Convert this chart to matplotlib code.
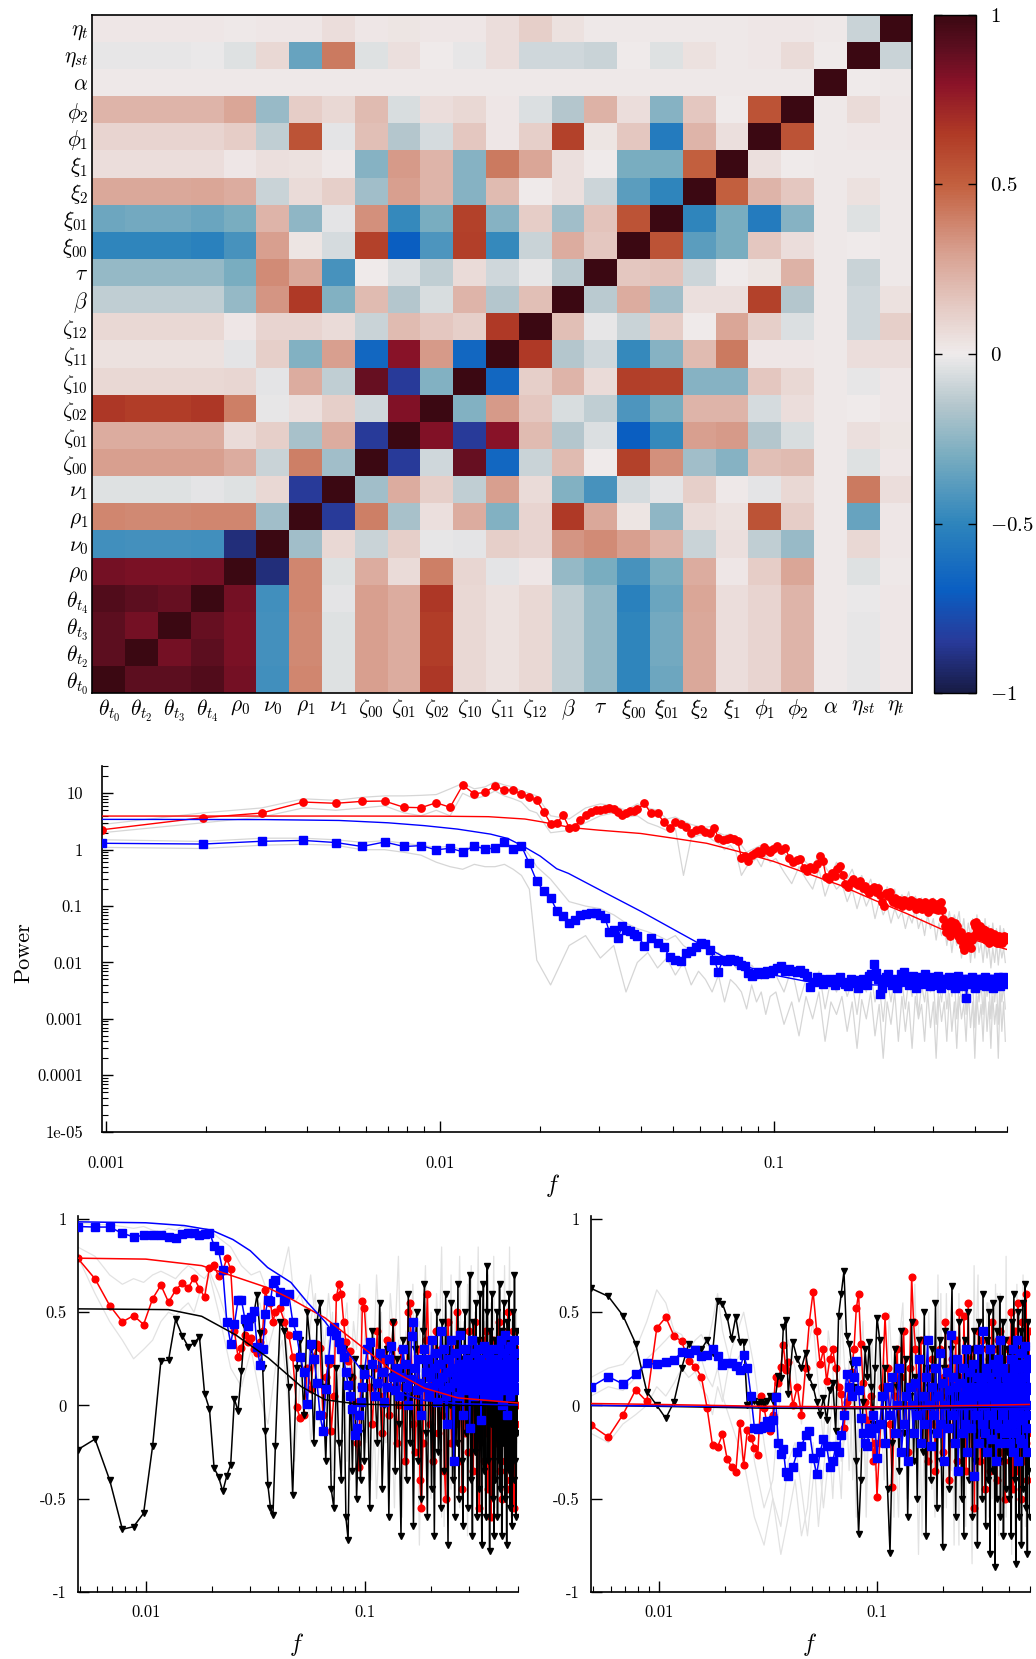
import numpy as np
import matplotlib as mpl
mpl.use('Agg')
import matplotlib.pyplot as plt
from matplotlib.colors import LinearSegmentedColormap
from matplotlib.ticker import LogLocator, NullFormatter

#--------------------------------
# Matriz de correlacion: etiquetas y triangulo inferior (fila i, columnas j<i)
etiquetas = [r'$\theta_{t_0}$', r'$\theta_{t_2}$', r'$\theta_{t_3}$', r'$\theta_{t_4}$',
             r'$\rho_0$', r'$\nu_0$', r'$\rho_1$', r'$\nu_1$',
             r'$\zeta_{00}$', r'$\zeta_{01}$', r'$\zeta_{02}$', r'$\zeta_{10}$',
             r'$\zeta_{11}$', r'$\zeta_{12}$', r'$\beta$', r'$\tau$',
             r'$\xi_{00}$', r'$\xi_{01}$', r'$\xi_2$', r'$\xi_1$',
             r'$\phi_1$', r'$\phi_2$', r'$\alpha$', r'$\eta_{st}$', r'$\eta_t$']

filas = [
    [],
    [0.90],
    [0.90, 0.85],
    [0.93, 0.90, 0.88],
    [0.85, 0.83, 0.83, 0.85],
    [-0.45, -0.44, -0.44, -0.45, -0.90],
    [0.38, 0.37, 0.37, 0.38, 0.38, -0.20],
    [-0.04, -0.04, -0.04, -0.03, -0.04, 0.08, -0.85],
    [0.30, 0.30, 0.30, 0.30, 0.25, -0.10, 0.40, -0.20],
    [0.25, 0.25, 0.25, 0.25, 0.07, 0.12, -0.18, 0.25, -0.85],
    [0.66, 0.64, 0.64, 0.66, 0.40, -0.02, 0.05, 0.12, -0.08, 0.82],
    [0.08, 0.08, 0.08, 0.08, 0.09, -0.03, 0.25, -0.12, 0.88, -0.85, -0.28],
    [0.04, 0.04, 0.04, 0.04, -0.03, 0.12, -0.28, 0.30, -0.65, 0.80, 0.32, -0.65],
    [0.08, 0.08, 0.08, 0.08, 0.02, 0.10, 0.10, 0.07, -0.10, 0.20, 0.15, 0.12, 0.65],
    [-0.12, -0.12, -0.12, -0.12, -0.23, 0.33, 0.65, -0.28, 0.20, -0.15, -0.06, 0.22, -0.15, 0.18],
    [-0.23, -0.23, -0.23, -0.23, -0.30, 0.36, 0.27, -0.43, 0.0, -0.05, -0.12, 0.07, -0.08, -0.02, -0.14],
    [-0.50, -0.50, -0.50, -0.52, -0.43, 0.30, 0.03, -0.07, 0.62, -0.70, -0.42, 0.63, -0.48, -0.10, 0.25, 0.15],
    [-0.33, -0.32, -0.32, -0.34, -0.30, 0.22, -0.25, -0.03, 0.35, -0.48, -0.30, 0.62, -0.27, 0.13, -0.20, 0.17, 0.55],
    [0.27, 0.27, 0.27, 0.28, 0.25, -0.10, 0.07, 0.12, -0.20, 0.30, 0.22, -0.27, 0.20, 0.0, 0.05, -0.09, -0.38, -0.50],
    [0.06, 0.06, 0.06, 0.06, 0.02, 0.05, 0.04, 0.01, -0.27, 0.32, 0.22, -0.27, 0.42, 0.28, 0.05, 0.0, -0.30, -0.30, 0.50],
    [0.10, 0.10, 0.10, 0.10, 0.13, -0.12, 0.55, -0.03, 0.18, -0.15, -0.07, 0.15, 0.02, 0.12, 0.62, 0.03, 0.15, -0.55, 0.22, 0.05],
    [0.22, 0.22, 0.22, 0.22, 0.28, -0.22, 0.13, 0.08, 0.20, -0.06, 0.06, 0.08, 0.02, -0.05, -0.15, 0.23, 0.06, -0.27, 0.15, 0.0, 0.55],
    [0.01] * 22,
    [-0.02, -0.02, -0.02, -0.01, -0.04, 0.08, -0.35, 0.42, -0.04, 0.05, 0.0, -0.02, 0.06, -0.08, -0.08, -0.10, 0.0, -0.04, 0.04, 0.01, 0.02, 0.07, 0.0],
    [0.02, 0.02, 0.02, 0.02, 0.01, 0.02, 0.02, 0.06, 0.02, 0.03, 0.02, 0.02, 0.06, 0.12, 0.04, 0.01, 0.01, 0.01, 0.01, 0.01, 0.02, 0.02, 0.01, -0.10],
]

#--------------------------------
# Espectro de potencia (f = k/1024)
k_med = np.r_[1:41, 42:101:2, 102:511:3]
p_rojo = [2.26, 3.7, 4.47, 7.0, 6.65, 7.2, 7.3, 5.65, 5.56, 6.8,
          5.65, 13.9, 9.8, 10.4, 13.5, 11.6, 11.3, 9.8, 8.5, 7.5,
          4.7, 2.9, 3.0, 4.1, 2.45, 2.56, 3.4, 4.2, 4.7, 5.06,
          5.1, 5.25, 5.4, 5.2, 4.7, 4.07, 4.5, 4.9, 4.9, 5.2,
          6.6, 4.4, 4.4, 3.1, 2.45, 3.1, 2.8, 2.56, 2.0, 2.2,
          2.3, 2.1, 2.0, 2.4, 1.6, 1.5, 1.55, 1.6, 1.55, 1.4,
          0.71, 0.76, 0.62, 0.81, 0.87, 0.93, 0.87, 1.1, 1.0, 0.9,
          1.05, 1.15, 1.0, 1.08, 0.72, 0.6, 0.65, 0.68, 0.48, 0.42,
          0.5, 0.45, 0.55, 0.78, 0.62, 0.33, 0.3, 0.38, 0.34, 0.45,
          0.52, 0.35, 0.25, 0.22, 0.27, 0.3, 0.26, 0.24, 0.28, 0.21,
          0.23, 0.19, 0.17, 0.2, 0.22, 0.18, 0.21, 0.16, 0.12, 0.1,
          0.17, 0.15, 0.18, 0.13, 0.12, 0.14, 0.11, 0.13, 0.12, 0.1,
          0.13, 0.11, 0.12, 0.1, 0.13, 0.11, 0.12, 0.09, 0.1, 0.12,
          0.11, 0.09, 0.1, 0.12, 0.1, 0.08, 0.11, 0.09, 0.12, 0.1,
          0.09, 0.11, 0.085, 0.1, 0.12, 0.085, 0.06, 0.045, 0.035, 0.05,
          0.04, 0.03, 0.055, 0.045, 0.035, 0.05, 0.04, 0.045, 0.03, 0.025,
          0.035, 0.03, 0.02, 0.017, 0.025, 0.02, 0.03, 0.022, 0.028, 0.018,
          0.025, 0.03, 0.05, 0.045, 0.052, 0.035, 0.04, 0.03, 0.045, 0.035,
          0.028, 0.04, 0.03, 0.038, 0.025, 0.032, 0.03, 0.022, 0.035, 0.028,
          0.03, 0.024, 0.032, 0.026, 0.03, 0.022, 0.028, 0.025, 0.03, 0.024,
          0.028, 0.022, 0.026, 0.03, 0.025, 0.028, 0.026]
p_azul = [1.3, 1.26, 1.41, 1.46, 1.34, 1.14, 1.37, 1.14, 1.18, 0.995,
          1.06, 0.92, 1.16, 1.03, 1.06, 1.37, 1.02, 1.16, 0.57, 0.275,
          0.183, 0.139, 0.082, 0.066, 0.05, 0.057, 0.07, 0.071, 0.077, 0.074,
          0.07, 0.062, 0.035, 0.037, 0.027, 0.044, 0.037, 0.036, 0.032, 0.03,
          0.02, 0.027, 0.0225, 0.0186, 0.0127, 0.011, 0.0105, 0.0146, 0.016, 0.0186,
          0.0225, 0.021, 0.017, 0.011, 0.0069, 0.011, 0.0105, 0.0115, 0.011, 0.0105,
          0.009, 0.0085, 0.0065, 0.0058, 0.0062, 0.0068, 0.0066, 0.0062, 0.007, 0.0065,
          0.0075, 0.008, 0.0085, 0.007, 0.0078, 0.0072, 0.0068, 0.0075, 0.0065, 0.0058,
          0.0037, 0.0045, 0.0055, 0.005, 0.0042, 0.0048, 0.0052, 0.0045, 0.004, 0.005,
          0.0055, 0.0046, 0.0042, 0.0038, 0.005, 0.0044, 0.0048, 0.0035, 0.0045, 0.0052,
          0.0047, 0.004, 0.0058, 0.0062, 0.0095, 0.0065, 0.005, 0.0028, 0.0035, 0.0045,
          0.0055, 0.0062, 0.0048, 0.004, 0.0042, 0.005, 0.0036, 0.0045, 0.0062, 0.0055,
          0.0068, 0.005, 0.0045, 0.004, 0.0052, 0.0058, 0.0048, 0.0035, 0.0044, 0.005,
          0.0055, 0.0046, 0.0042, 0.0062, 0.005, 0.0044, 0.0038, 0.0048, 0.0055, 0.0045,
          0.004, 0.005, 0.0058, 0.0045, 0.0035, 0.0052, 0.0048, 0.0042, 0.005, 0.0046,
          0.0055, 0.0044, 0.004, 0.0052, 0.0048, 0.0036, 0.005, 0.0045, 0.0058, 0.0042,
          0.0046, 0.005, 0.0038, 0.0045, 0.0052, 0.0023, 0.0042, 0.005, 0.0048, 0.0044,
          0.0055, 0.0045, 0.0048, 0.0036, 0.005, 0.0042, 0.0046, 0.0052, 0.0044, 0.0048,
          0.004, 0.005, 0.0045, 0.0055, 0.0038, 0.0047, 0.0052, 0.0043, 0.005, 0.0045,
          0.0048, 0.0035, 0.0052, 0.0045, 0.0042, 0.005, 0.0055, 0.0044, 0.0048, 0.0038,
          0.0046, 0.005, 0.0055, 0.0042, 0.0048, 0.0052, 0.0045]

# Ajustes (curvas suaves)
f_aj_rojo = [0.000977, 0.005, 0.01, 0.014, 0.018, 0.02, 0.0225, 0.025, 0.03, 0.04, 0.05,
             0.063, 0.079, 0.1, 0.126, 0.158, 0.2, 0.25, 0.315, 0.4, 0.5]
p_aj_rojo = [3.95, 3.95, 3.93, 3.85, 3.5, 3.15, 2.75, 2.45, 2.22, 1.94, 1.6,
             1.3, 0.92, 0.62, 0.38, 0.235, 0.128, 0.074, 0.04, 0.025, 0.017]
f_aj_azul = [0.000977, 0.003, 0.005, 0.007, 0.009, 0.0113, 0.0142, 0.016, 0.0178, 0.02, 0.0224,
             0.0243, 0.0317, 0.04, 0.05, 0.06, 0.0707, 0.0794, 0.1, 0.126, 0.2, 0.5]
p_aj_azul = [3.45, 3.42, 3.3, 3.0, 2.67, 2.32, 1.89, 1.58, 1.15, 0.77, 0.46,
             0.38, 0.166, 0.081, 0.039, 0.0215, 0.0127, 0.0092, 0.006, 0.0046, 0.004, 0.0037]

# Realizaciones individuales (gris)
k_gmed = np.r_[1:21, 22:101:3, 104:509:6]
grises_med = [
    [2.8, 4.5, 5.5, 8.0, 7.5, 8.5, 9.0, 9.0, 9.2, 9.5, 12.0, 15.0, 12.0, 13.0, 16.0, 14.0, 13.0, 11.0, 10.0, 9.0,
     4.0, 3.5, 5.5, 6.5, 6.0, 5.0, 6.5, 5.5, 5.0, 3.5, 3.8, 3.2, 2.8, 2.6, 2.5, 2.6, 2.0, 1.8, 1.9, 1.6,
     1.2, 0.9, 1.0, 1.1, 1.2, 1.0, 1.1,
     1.3, 0.9, 0.5, 0.8, 0.6, 0.45, 0.9, 0.5, 0.35, 0.6, 0.4, 0.3, 0.45, 0.25, 0.35, 0.2, 0.3, 0.15, 0.25, 0.12,
     0.22, 0.14, 0.2, 0.1, 0.16, 0.12, 0.18, 0.09, 0.15, 0.11, 0.14, 0.08, 0.13, 0.1, 0.14, 0.07, 0.12, 0.09, 0.11, 0.05,
     0.08, 0.04, 0.07, 0.05, 0.08, 0.03, 0.06, 0.025, 0.05, 0.03, 0.06, 0.035, 0.07, 0.03, 0.05, 0.025, 0.06, 0.03, 0.045, 0.02,
     0.05, 0.025, 0.04, 0.02, 0.045, 0.025, 0.04, 0.03],
    [2.0, 3.0, 3.8, 5.5, 5.0, 5.5, 6.0, 4.5, 4.0, 5.0, 4.0, 10.0, 8.0, 9.0, 11.0, 9.0, 8.0, 7.0, 5.0, 4.5,
     2.0, 2.2, 3.0, 4.0, 4.5, 3.8, 4.0, 3.0, 2.6, 2.2, 2.4, 0.35, 1.6, 1.8, 1.9, 1.5, 1.3, 1.0, 1.2, 0.9,
     0.35, 0.5, 0.6, 0.7, 0.5, 0.8, 0.6,
     0.7, 0.4, 0.25, 0.5, 0.3, 0.2, 0.45, 0.15, 0.3, 0.2, 0.25, 0.12, 0.2, 0.09, 0.18, 0.1, 0.15, 0.06, 0.12, 0.07,
     0.1, 0.05, 0.09, 0.06, 0.08, 0.04, 0.07, 0.05, 0.09, 0.04, 0.06, 0.03, 0.07, 0.04, 0.06, 0.025, 0.05, 0.03, 0.045, 0.02,
     0.04, 0.015, 0.035, 0.02, 0.03, 0.012, 0.028, 0.015, 0.03, 0.01, 0.025, 0.012, 0.03, 0.015, 0.022, 0.01, 0.025, 0.012, 0.02, 0.008,
     0.018, 0.01, 0.022, 0.009, 0.02, 0.012, 0.018, 0.01],
    [1.5, 1.4, 1.6, 1.6, 1.5, 1.35, 1.45, 1.3, 1.2, 1.1, 1.15, 1.0, 1.2, 1.1, 1.1, 1.4, 1.1, 1.2, 0.8, 0.5,
     0.3, 0.12, 0.1, 0.09, 0.07, 0.05, 0.04, 0.035, 0.03, 0.025, 0.03, 0.02, 0.016, 0.022, 0.018, 0.012, 0.015, 0.01, 0.012, 0.008,
     0.01, 0.006, 0.009, 0.007, 0.005, 0.008, 0.006,
     0.006, 0.003, 0.008, 0.002, 0.005, 0.004, 0.007, 0.0015, 0.005, 0.003, 0.006, 0.0025, 0.0045, 0.0012, 0.005, 0.003, 0.007, 0.002, 0.004, 0.0009,
     0.005, 0.002, 0.006, 0.003, 0.0045, 0.0015, 0.005, 0.0025, 0.006, 0.0012, 0.004, 0.002, 0.0055, 0.003, 0.005, 0.0008, 0.004, 0.002, 0.006, 0.0015,
     0.0045, 0.0025, 0.005, 0.001, 0.004, 0.002, 0.006, 0.0012, 0.005, 0.003, 0.004, 0.0007, 0.005, 0.002, 0.0045, 0.0012, 0.006, 0.0025, 0.004, 0.001,
     0.005, 0.002, 0.0045, 0.0008, 0.005, 0.002, 0.004, 0.0015],
    [1.1, 1.05, 1.2, 1.25, 1.2, 1.0, 1.0, 0.9, 0.8, 0.6, 0.5, 0.45, 0.55, 0.5, 0.5, 0.55, 0.45, 0.35, 0.2, 0.011,
     0.004, 0.02, 0.03, 0.012, 0.02, 0.003, 0.01, 0.015, 0.008, 0.012, 0.006, 0.01, 0.004, 0.007, 0.005, 0.003, 0.006, 0.002, 0.005, 0.004,
     0.003, 0.0015, 0.004, 0.002, 0.003, 0.0012, 0.0025,
     0.003, 0.0008, 0.002, 0.0005, 0.0025, 0.001, 0.003, 0.0004, 0.002, 0.0012, 0.0025, 0.0006, 0.002, 0.0003, 0.0022, 0.001, 0.003, 0.0005, 0.0018, 0.0002,
     0.002, 0.0008, 0.003, 0.0004, 0.0025, 0.0006, 0.002, 0.0003, 0.0025, 0.001, 0.0018, 0.0004, 0.003, 0.0007, 0.002, 0.0002, 0.0025, 0.0009, 0.002, 0.0004,
     0.0028, 0.0006, 0.002, 0.0003, 0.0025, 0.001, 0.0018, 0.0004, 0.003, 0.0007, 0.002, 0.0002, 0.0025, 0.0008, 0.0018, 0.0004, 0.003, 0.0006, 0.002, 0.0003,
     0.0025, 0.0008, 0.0018, 0.0002, 0.0028, 0.0006, 0.002, 0.0004],
]

#--------------------------------
# Coherencias (paneles inferiores)
k_inf = np.r_[5:41, 42:101:2, 102:511:3]
iz_azul = [0.96, 0.957, 0.957, 0.923, 0.905, 0.912, 0.912, 0.912, 0.903, 0.896,
           0.918, 0.925, 0.923, 0.914, 0.921, 0.927, 0.858, 0.832, 0.724, 0.448,
           0.332, 0.437, 0.563, 0.566, 0.466, 0.425, 0.473, 0.505, 0.314, 0.219,
           0.3, 0.493, 0.563, 0.559, 0.658, 0.672,
           0.61, 0.56, 0.6, 0.45, 0.38, 0.26, 0.18, 0.01, 0.33, 0.25,
           0.12, -0.05, -0.14, 0.09, 0.25, 0.4, 0.42, 0.38, 0.34, 0.3,
           0.26, 0.18, 0.11, 0.05, -0.02, -0.16, -0.12, -0.05, 0.02, 0.1,
           0.17, 0.3, 0.34, 0.22, 0.05, 0.12, 0.28, 0.18, 0.02, 0.1,
           0.25, 0.32, 0.15, 0.08, 0.2, 0.05, 0.15, 0.3, 0.22, 0.1,
           0.0, 0.14, 0.37, 0.45, 0.2, 0.08, 0.25, 0.12, -0.05, 0.1,
           0.3, 0.18, 0.25, 0.05, 0.15, 0.35, 0.1, 0.2, 0.28, 0.02,
           0.12, 0.22, 0.4, 0.15, 0.08, 0.3, 0.05, -0.1, 0.18, 0.25,
           0.1, 0.35, 0.2, -0.3, 0.12, 0.28, 0.15, 0.05, 0.22, 0.38,
           0.1, 0.2, -0.05, 0.15, 0.3, 0.08, 0.25, 0.12, 0.18, -0.12,
           0.22, 0.35, 0.1, 0.15, 0.05, 0.28, 0.2, 0.12, 0.3, 0.08,
           0.18, 0.25, -0.08, 0.15, 0.22, 0.1, 0.32, 0.05, 0.2, 0.12,
           0.28, 0.15, 0.08, 0.25, 0.18, 0.1, 0.22, 0.05, 0.3, 0.15,
           0.12, 0.2, 0.1,
           0.15, 0.25, 0.05, 0.3, 0.18, 0.1, 0.35, 0.22, 0.0, 0.12,
           0.28, 0.2, 0.08, 0.38, 0.15, 0.25, -0.05, 0.18, 0.3, 0.1,
           0.22, 0.05, 0.32, 0.15, 0.25, 0.12, 0.2, 0.35, 0.08, 0.18,
           0.28, 0.1, 0.22, 0.15]
iz_rojo = [0.79, 0.679, 0.536, 0.448, 0.482, 0.434, 0.573, 0.645, 0.554, 0.618,
           0.656, 0.631, 0.685, 0.627, 0.582, 0.738, 0.751, 0.694, 0.72, 0.79,
           0.73, 0.4, 0.26, 0.31, 0.38, 0.34, 0.36, 0.3, 0.28, 0.34,
           0.4, 0.62, 0.56, 0.55, 0.45, 0.5,
           0.52, 0.45, 0.38, 0.26, -0.01, -0.07, -0.05, 0.2, 0.09, 0.26,
           0.33, 0.31, -0.05, 0.15, 0.22, -0.14, 0.05, 0.58, 0.65, 0.6,
           0.45, 0.34, 0.24, 0.29, 0.15, 0.02, -0.2, -0.33, 0.1, 0.56,
           0.52, 0.3, 0.1, -0.1, 0.2, 0.4, 0.05, -0.15, 0.25, 0.35,
           -0.05, 0.1, 0.45, 0.2, -0.2, 0.0, 0.3, 0.1, -0.3, 0.15,
           0.5, 0.55, 0.2, -0.1, -0.25, 0.05, 0.3, -0.4, -0.55, -0.2,
           0.1, 0.35, 0.6, 0.25, -0.1, 0.15, -0.3, 0.05, 0.4, 0.2,
           -0.15, 0.1, 0.3, -0.05, 0.2, -0.35, -0.5, 0.1, 0.45, 0.25,
           0.05, -0.2, 0.15, 0.35, -0.1, 0.1, 0.5, 0.2, -0.3, 0.0,
           0.25, -0.45, 0.1, 0.3, -0.15, 0.2, 0.05, -0.25, 0.4, 0.15,
           -0.1, 0.3, 0.1, -0.35, 0.2, 0.45, 0.0, -0.2, 0.15, 0.3,
           -0.55, 0.1, 0.25, -0.1, 0.35, 0.05, -0.3, 0.2, 0.4, -0.15,
           0.1, -0.45, 0.25, 0.05, 0.3, -0.6, 0.15, 0.35, -0.2, 0.1,
           0.2, -0.1, 0.05,
           0.3, -0.2, 0.1, 0.45, -0.35, 0.2, 0.05, -0.5, 0.25, 0.4,
           -0.1, 0.15, -0.3, 0.35, 0.0, -0.45, 0.2, 0.5, -0.15, 0.1,
           0.3, -0.4, 0.05, 0.25, -0.25, 0.4, 0.1, -0.55, 0.2, 0.35,
           -0.1, 0.15, 0.0, 0.3]
iz_negro = [-0.238, -0.181, -0.401, -0.665, -0.651, -0.579, -0.217, 0.24, 0.242, 0.461,
            0.375, 0.314, 0.335, 0.367, 0.063, -0.02, -0.337, -0.382, -0.462, -0.378,
            -0.319, 0.036, -0.032, 0.183, 0.419, 0.46, 0.45, 0.5, 0.595, 0.39,
            0.2, -0.14, -0.43, -0.55, -0.59, -0.22,
            0.45, 0.4, 0.1, -0.48, 0.2, 0.35, -0.05, 0.5, 0.3, -0.2,
            0.45, 0.55, 0.1, -0.3, 0.25, -0.45, -0.55, 0.2, -0.2, -0.4,
            0.3, -0.6, -0.72, 0.15, -0.35, 0.25, -0.5, -0.15, -0.4, 0.2,
            -0.3, 0.2, -0.55, 0.4, 0.1, -0.2, 0.55, -0.45, 0.0, 0.3,
            -0.6, 0.15, 0.45, -0.35, 0.25, -0.1, -0.7, 0.35, 0.05, -0.4,
            0.6, -0.2, 0.2, -0.65, 0.3, 0.5, -0.3, 0.1, -0.5, 0.4,
            0.65, -0.15, -0.6, 0.25, 0.05, -0.45, 0.35, -0.7, 0.15, 0.5,
            -0.25, 0.1, -0.55, 0.45, 0.2, -0.35, 0.6, -0.1, -0.75, 0.3,
            0.0, 0.55, -0.4, 0.2, -0.6, 0.35, -0.2, 0.65, -0.5, 0.1,
            0.4, -0.3, -0.65, 0.25, 0.5, -0.15, 0.3, -0.55, 0.15, 0.7,
            -0.4, 0.05, -0.7, 0.45, 0.2, -0.25, 0.55, -0.6, 0.1, 0.35,
            -0.45, 0.6, -0.2, -0.75, 0.3, 0.65, -0.35, 0.15, -0.6, 0.5,
            0.75, -0.3, 0.2, -0.78, 0.4, -0.1, 0.6, -0.5, 0.25, -0.7,
            0.35, -0.4, 0.1,
            0.5, -0.6, 0.2, -0.3, 0.65, -0.45, 0.1, 0.4, -0.7, 0.25,
            -0.2, 0.55, -0.5, 0.3, -0.1, -0.75, 0.45, 0.15, -0.35, 0.6,
            -0.55, 0.2, 0.35, -0.25, -0.65, 0.5, 0.05, -0.4, 0.7, -0.3,
            0.25, -0.6, 0.4, -0.15]

de_azul = [0.1, 0.154, 0.115, 0.167, 0.225, 0.222, 0.234, 0.246, 0.284, 0.282,
           0.296, 0.264, 0.27, 0.305, 0.264, 0.216, 0.23, 0.23, 0.213, 0.19,
           0.27, 0.202, 0.051, -0.12, -0.126, -0.12, -0.112, -0.085, -0.117, -0.08,
           0.043, -0.2, -0.262, -0.236, -0.36, -0.378,
           -0.33, -0.25, -0.22, -0.16, -0.14, -0.28, -0.37, -0.25, -0.18, -0.22,
           -0.33, -0.3, -0.22, -0.25, -0.16, -0.05, 0.17, 0.1, 0.05, 0.15,
           0.24, 0.08, -0.07, -0.15, -0.2, -0.22, -0.12, -0.15, -0.05, -0.12,
           -0.28, -0.1, 0.05, -0.2, 0.1, -0.05, 0.15, -0.15, 0.0, 0.2,
           -0.25, -0.1, 0.05, -0.3, 0.1, 0.0, -0.15, 0.12, -0.05, 0.25,
           -0.2, 0.05, -0.1, 0.15, 0.35, 0.0, -0.22, 0.1, -0.05, 0.2,
           -0.15, 0.05, 0.28, -0.1, 0.12, -0.3, 0.0, 0.18, -0.12, 0.08,
           0.38, -0.05, 0.15, -0.2, 0.1, 0.25, -0.35, 0.0, 0.12, -0.15,
           0.2, 0.05, -0.1, 0.3, -0.25, 0.1, 0.0, 0.18, -0.12, 0.05,
           0.22, -0.38, 0.1, -0.05, 0.15, 0.3, -0.2, 0.05, 0.12, -0.1,
           0.4, 0.0, -0.15, 0.2, 0.08, -0.25, 0.15, -0.05, 0.3, 0.1,
           -0.18, 0.05, 0.22, -0.1, 0.12, -0.3, 0.18, 0.0, 0.25, -0.12,
           0.08, 0.35, -0.2, 0.1, -0.05, 0.2, 0.0, -0.15, 0.15, 0.05,
           -0.1, 0.12, 0.02,
           0.1, -0.2, 0.25, 0.0, -0.1, 0.3, -0.25, 0.15, 0.05, -0.15,
           0.2, -0.05, 0.35, -0.3, 0.1, 0.0, 0.22, -0.18, 0.12, -0.08,
           0.28, 0.05, -0.2, 0.15, 0.0, 0.32, -0.12, 0.08, -0.25, 0.2,
           0.1, -0.05, 0.25, 0.0]
de_rojo = [-0.106, -0.17, -0.05, 0.083, 0.021, 0.415, 0.473, 0.372, 0.344, 0.238,
           0.207, 0.154, -0.014, -0.215, -0.222, -0.156, -0.287, -0.33, -0.36, -0.094,
           -0.321, -0.13, -0.174, -0.227, -0.266, 0.048, -0.014, -0.1, -0.138, -0.05,
           0.154, 0.119, 0.207, 0.326, 0.19, 0.234,
           0.0, 0.1, -0.05, 0.2, 0.45, 0.61, 0.4, 0.22, 0.3, 0.13,
           0.25, 0.3, 0.2, 0.1, 0.06, -0.12, 0.02, 0.1, 0.18, 0.3,
           0.52, 0.6, 0.33, 0.12, 0.02, -0.08, -0.15, 0.05, -0.3, -0.2,
           -0.49, -0.2, 0.1, 0.48, 0.2, -0.1, -0.44, 0.05, 0.3, -0.15,
           0.15, 0.4, 0.0, -0.25, 0.2, 0.69, 0.45, 0.3, 0.1, -0.05,
           0.35, -0.2, 0.15, 0.05, -0.3, 0.2, -0.1, 0.25, 0.0, -0.35,
           0.1, -0.15, 0.3, 0.05, -0.25, 0.15, 0.45, -0.1, 0.2, -0.4,
           0.0, 0.25, -0.2, 0.1, 0.35, -0.3, 0.05, 0.5, -0.15, 0.15,
           -0.05, 0.48, 0.2, -0.35, 0.1, 0.55, -0.1, 0.25, -0.25, 0.05,
           0.3, -0.55, 0.1, 0.2, -0.2, 0.4, 0.0, -0.3, 0.15, 0.35,
           -0.1, 0.2, -0.45, 0.05, 0.3, -0.15, 0.1, 0.25, -0.35, 0.0,
           0.45, -0.2, 0.15, 0.3, -0.1, 0.05, -0.4, 0.2, 0.35, -0.25,
           0.1, 0.4, -0.15, 0.2, -0.3, 0.1, 0.25, -0.5, 0.05, 0.15,
           -0.2, 0.3, 0.0,
           0.35, -0.3, 0.1, 0.5, -0.2, 0.15, -0.45, 0.25, 0.05, 0.4,
           -0.15, 0.2, -0.35, 0.55, 0.0, -0.25, 0.3, 0.1, -0.5, 0.2,
           0.45, -0.1, 0.05, -0.3, 0.35, 0.15, -0.2, 0.6, -0.4, 0.1,
           0.25, -0.15, 0.4, 0.0]
de_negro = [0.628, 0.585, 0.482, 0.332, 0.074, 0.0, -0.07, 0.02, 0.2, 0.33,
            0.3, 0.3, 0.35, 0.28, 0.56, 0.545, 0.475, 0.355, 0.475, 0.34,
            0.34, 0.0, 0.02, 0.025, 0.007, 0.02, 0.01, 0.025, 0.05, 0.025,
            0.05, 0.155, 0.145, 0.42, 0.46, 0.06,
            0.34, 0.25, 0.2, 0.28, 0.15, 0.1, 0.02, -0.05, 0.04, -0.08,
            0.08, 0.12, -0.14, 0.48, 0.6, 0.72, 0.37, 0.33, 0.22, 0.1,
            -0.3, -0.69, -0.4, 0.02, 0.3, 0.15, 0.34, 0.1, -0.1, 0.2,
            0.47, 0.35, -0.1, 0.2, -0.45, -0.79, -0.2, 0.3, 0.1, -0.35,
            0.4, -0.15, 0.25, -0.6, 0.05, 0.45, -0.3, 0.15, -0.5, 0.35,
            0.0, -0.25, 0.5, -0.7, 0.2, 0.1, -0.4, 0.3, -0.15, 0.55,
            -0.55, 0.1, 0.35, -0.3, -0.76, 0.2, 0.4, -0.1, 0.05, -0.45,
            0.3, 0.64, -0.2, 0.1, -0.6, 0.25, -0.35, 0.45, 0.0, -0.5,
            0.2, -0.7, 0.35, 0.1, -0.25, 0.5, -0.4, 0.15, 0.3, -0.6,
            0.05, 0.4, -0.3, 0.2, -0.75, 0.1, 0.45, -0.15, 0.3, -0.5,
            0.6, -0.2, 0.1, -0.65, 0.35, 0.0, -0.4, 0.5, -0.8, 0.2,
            0.3, -0.35, 0.55, -0.1, -0.87, 0.25, -0.5, 0.4, 0.1, -0.3,
            0.57, -0.6, 0.2, -0.2, 0.45, -0.7, 0.1, 0.35, -0.45, 0.15,
            -0.25, 0.3, -0.1,
            -0.5, 0.3, 0.1, -0.7, 0.45, -0.2, 0.2, 0.6, -0.4, 0.05,
            -0.85, 0.35, 0.15, -0.3, 0.5, -0.6, 0.25, -0.1, 0.4, -0.75,
            0.2, 0.55, -0.45, 0.1, -0.25, 0.65, -0.55, 0.3, 0.0, -0.8,
            0.45, -0.35, 0.2, -0.6]

# Ajustes de coherencia
f_aj_iz_azul = [0.0049, 0.01, 0.015, 0.02, 0.025, 0.03, 0.036, 0.046, 0.055, 0.0658, 0.0782, 0.0965, 0.132, 0.187, 0.267, 0.5]
c_aj_iz_azul = [0.985, 0.98, 0.965, 0.94, 0.89, 0.83, 0.74, 0.66, 0.55, 0.45, 0.33, 0.19, 0.075, 0.027, 0.009, 0.002]
f_aj_iz_rojo = [0.0049, 0.01, 0.018, 0.0256, 0.0363, 0.0463, 0.0571, 0.0658, 0.0934, 0.132, 0.187, 0.267, 0.5]
c_aj_iz_rojo = [0.79, 0.785, 0.75, 0.69, 0.63, 0.57, 0.51, 0.47, 0.33, 0.19, 0.093, 0.04, 0.013]
f_aj_iz_negro = [0.0049, 0.0127, 0.018, 0.0256, 0.0363, 0.0514, 0.066, 0.093, 0.15, 0.5]
c_aj_iz_negro = [0.518, 0.514, 0.478, 0.38, 0.254, 0.1, 0.03, 0.007, 0.001, 0.0]
f_aj_de = [0.0049, 0.01, 0.03, 0.1, 0.3, 0.5]
c_aj_de_negro = [0.0, -0.005, -0.015, -0.018, -0.01, -0.005]
c_aj_de_azul = [0.0, -0.003, -0.008, -0.01, -0.005, -0.005]
c_aj_de_rojo = [0.01, 0.005, -0.005, -0.008, 0.0, 0.005]

k_ginf = np.r_[5:21, 22:101:3, 104:509:6]
grises_iz = [
    [0.98, 0.97, 0.97, 0.96, 0.95, 0.96, 0.94, 0.93, 0.95, 0.94, 0.96, 0.95, 0.94, 0.93, 0.95, 0.94,
     0.9, 0.85, 0.75, 0.7, 0.72, 0.6, 0.65, 0.7, 0.85, 0.55, 0.6, 0.5, 0.7, 0.45, 0.55, 0.3, 0.6, 0.35, 0.5, 0.2,
     0.4, 0.55, 0.1, 0.45, 0.3, 0.65, 0.2,
     0.5, -0.1, 0.7, 0.2, -0.2, 0.6, 0.3, 0.8, -0.1, 0.4, 0.1, 0.65, -0.25, 0.45, 0.2, 0.75, 0.0, 0.5, -0.15, 0.6,
     0.3, 0.85, -0.05, 0.4, 0.15, 0.7, -0.2, 0.55, 0.25, 0.8, 0.05, 0.45, -0.1, 0.65, 0.2, 0.75, -0.15, 0.5, 0.3, 0.85,
     0.0, 0.6, -0.2, 0.45, 0.25, 0.7, -0.05, 0.55, 0.1, 0.8, -0.1, 0.4, 0.3, 0.65, -0.25, 0.5, 0.15, 0.75, 0.0, 0.55,
     0.2, 0.85, -0.1, 0.45, 0.3, 0.6, 0.05, 0.5],
    [0.85, 0.8, 0.7, 0.65, 0.68, 0.66, 0.7, 0.72, 0.7, 0.68, 0.72, 0.75, 0.73, 0.7, 0.68, 0.72,
     0.6, 0.4, 0.35, 0.5, 0.55, 0.3, 0.45, 0.6, 0.2, 0.1, 0.35, 0.0, 0.45, 0.6, -0.1, 0.3, 0.15, 0.5, -0.2, 0.25,
     0.4, -0.3, 0.1, 0.35, -0.15, 0.2, 0.05,
     0.3, -0.4, 0.1, 0.5, -0.2, 0.2, -0.55, 0.35, 0.0, -0.3, 0.45, -0.1, 0.25, -0.5, 0.1, 0.55, -0.25, 0.15, -0.4, 0.3,
     0.0, -0.6, 0.4, 0.05, -0.2, 0.5, -0.35, 0.2, -0.1, 0.45, -0.45, 0.1, 0.3, -0.25, 0.15, -0.55, 0.4, 0.0, 0.25, -0.3,
     0.5, -0.15, 0.1, -0.5, 0.35, -0.05, 0.2, -0.4, 0.45, 0.0, -0.25, 0.3, -0.6, 0.15, 0.4, -0.2, 0.05, -0.45, 0.35, 0.1,
     -0.3, 0.5, -0.1, 0.2, -0.5, 0.3, 0.0, -0.2],
    [0.8, 0.6, 0.45, 0.35, 0.25, 0.3, 0.35, 0.45, 0.5, 0.48, 0.52, 0.55, 0.5, 0.6, 0.62, 0.7,
     0.5, 0.2, 0.1, 0.3, 0.05, -0.1, 0.2, 0.35, 0.0, -0.3, 0.15, 0.3, -0.2, 0.05, 0.25, -0.1, 0.35, -0.35, 0.1, 0.2,
     -0.15, 0.3, -0.4, 0.05, 0.15, -0.25, 0.1,
     -0.2, 0.35, -0.5, 0.1, 0.25, -0.35, 0.45, -0.1, -0.6, 0.2, 0.05, -0.4, 0.3, -0.75, 0.15, 0.4, -0.2, -0.5, 0.25, 0.0,
     -0.3, 0.35, -0.65, 0.1, 0.2, -0.45, 0.3, -0.15, 0.05, -0.55, 0.4, -0.25, 0.15, -0.7, 0.3, 0.0, -0.35, 0.45, -0.1, -0.5,
     0.2, -0.3, 0.35, -0.6, 0.1, 0.25, -0.4, 0.05, -0.2, 0.4, -0.55, 0.15, 0.3, -0.3, -0.7, 0.2, 0.0, 0.35, -0.45, 0.1,
     -0.2, 0.3, -0.6, 0.15, 0.05, -0.35, 0.25, -0.1],
]
grises_de = [
    [0.15, 0.2, 0.22, 0.3, 0.45, 0.62, 0.55, 0.4, 0.35, 0.3, 0.35, 0.38, 0.32, 0.45, 0.6, 0.4,
     0.2, 0.3, -0.3, -0.55, -0.4, 0.1, 0.35, 0.2, -0.1, 0.3, 0.45, 0.1, -0.2, 0.4, 0.2, -0.3, 0.5, 0.15, -0.1, 0.3,
     -0.4, 0.2, 0.45, -0.15, 0.1, 0.35, -0.25,
     0.2, -0.4, 0.5, 0.0, -0.6, 0.35, 0.1, -0.3, 0.65, -0.1, 0.25, -0.5, 0.4, 0.05, -0.35, 0.7, -0.2, 0.15, -0.55, 0.45,
     0.0, 0.3, -0.4, 0.6, -0.15, 0.2, -0.65, 0.35, 0.1, -0.3, 0.75, -0.05, 0.25, -0.5, 0.4, 0.0, -0.25, 0.55, -0.6, 0.15,
     0.3, -0.35, 0.65, -0.1, 0.2, -0.55, 0.45, 0.05, -0.3, 0.8, -0.2, 0.1, -0.45, 0.35, 0.0, 0.6, -0.7, 0.25, -0.15, 0.5,
     -0.4, 0.15, 0.7, -0.25, 0.3, -0.5, 0.4, 0.0],
    [0.05, 0.1, 0.08, 0.15, 0.25, 0.3, 0.35, 0.4, 0.38, 0.3, 0.2, 0.25, 0.15, 0.1, 0.2, 0.05,
     -0.1, -0.3, -0.6, -0.75, -0.5, -0.65, -0.3, -0.2, -0.45, -0.7, -0.4, -0.25, -0.55, -0.3, 0.1, -0.2, -0.5, 0.2, -0.35, 0.05,
     -0.6, 0.15, -0.1, -0.45, 0.25, -0.3, 0.0,
     -0.3, 0.25, -0.7, 0.1, -0.15, 0.45, -0.5, 0.0, 0.3, -0.8, 0.2, -0.35, 0.5, -0.1, -0.6, 0.35, 0.05, -0.45, 0.6, -0.25,
     0.15, -0.75, 0.4, -0.05, 0.25, -0.55, 0.1, 0.5, -0.3, -0.85, 0.3, -0.15, 0.45, -0.4, 0.05, 0.2, -0.65, 0.55, -0.2, 0.1,
     -0.5, 0.35, -0.1, 0.6, -0.7, 0.15, 0.0, -0.35, 0.4, -0.6, 0.25, -0.2, 0.5, -0.45, 0.05, 0.3, -0.8, 0.2, -0.1, 0.45,
     -0.55, 0.1, -0.3, 0.55, -0.65, 0.2, -0.15, 0.35],
    [-0.15, -0.2, -0.1, -0.05, 0.0, 0.1, 0.05, 0.12, 0.2, 0.15, 0.18, 0.1, 0.05, -0.05, 0.1, 0.02,
     0.3, 0.5, 0.2, -0.2, -0.5, -0.8, -0.6, -0.4, -0.7, -0.55, -0.2, -0.65, -0.35, -0.1, -0.5, 0.0, -0.3, -0.15, 0.25, -0.4,
     0.1, -0.25, 0.3, -0.6, 0.05, 0.2, -0.35,
     0.4, -0.2, 0.1, -0.6, 0.3, 0.55, -0.4, 0.05, -0.25, 0.45, -0.7, 0.2, 0.0, -0.45, 0.35, -0.15, 0.6, -0.55, 0.1, 0.25,
     -0.35, 0.5, -0.05, -0.75, 0.3, 0.15, -0.4, 0.45, -0.2, 0.05, -0.6, 0.35, 0.7, -0.3, 0.1, -0.5, 0.25, -0.1, 0.55, -0.45,
     0.0, 0.4, -0.7, 0.2, -0.25, 0.6, -0.15, 0.1, -0.55, 0.35, 0.5, -0.35, 0.05, -0.8, 0.3, 0.15, -0.45, 0.65, -0.2, 0.0,
     0.4, -0.6, 0.25, -0.1, 0.5, -0.4, 0.1, -0.25],
]

#--------------------------------
def serie(k, v):
    n = min(len(k), len(v))
    return np.asarray(k[:n]) / 1024., np.asarray(v[:n])

plt.rcParams['font.family'] = 'cmr10'
plt.rcParams['mathtext.fontset'] = 'cm'
plt.rcParams['axes.unicode_minus'] = False
plt.rcParams['axes.formatter.use_mathtext'] = True

fig = plt.figure(figsize=(10.36, 16.59), dpi=100)

#--------------------------------
# Mapa de calor
n = len(etiquetas)
M = np.eye(n)
for i, fila in enumerate(filas):
    for j, v in enumerate(fila):
        M[i, j] = v
        M[j, i] = v

pos = [0, 0.075, 0.15, 0.25, 0.35, 0.425, 0.5, 0.575, 0.65, 0.75, 0.825, 0.9, 0.95, 1.0]
col = ['#171b45', '#283a9a', '#0a5ec2', '#2e85bc', '#7aadc0', '#b5c7cd', '#efebeb',
       '#e4c8c1', '#d8a090', '#c3603f', '#b03a26', '#8a1228', '#5e0e20', '#3b0812']
cmap = LinearSegmentedColormap.from_list('balance', list(zip(pos, col)))

ax1 = fig.add_axes((0.0891, 0.5821, 0.7915, 0.40904))
mesh = ax1.pcolormesh(M, cmap=cmap, vmin=-1, vmax=1)
ax1.set_xlim(0, n); ax1.set_ylim(0, n)
ax1.set_xticks(np.arange(n) + 0.5)
ax1.set_yticks(np.arange(n) + 0.5)
ax1.set_xticklabels(etiquetas, fontsize=15.5)
ax1.set_yticklabels(etiquetas, fontsize=15.5)
ax1.tick_params(length=0, pad=3)
for s in ax1.spines.values():
    s.set_linewidth(1.2)

cax = fig.add_axes((0.9015, 0.5821, 0.0405, 0.40904))
cb = fig.colorbar(mesh, cax=cax)
cb.set_ticks([-1, -0.5, 0, 0.5, 1])
cb.set_ticklabels([r'$-1$', r'$-0.5$', r'$0$', r'$0.5$', r'$1$'])
cb.outline.set_linewidth(1.0)
cax.tick_params(axis='y', direction='in', left=True, right=True, labelleft=False,
                labelright=True, length=6, width=1, pad=10, labelsize=15)
cax.minorticks_off()

#--------------------------------
# Espectro
ax2 = fig.add_axes((0.09875, 0.31785, 0.8733, 0.22043))
ax2.set_xscale('log'); ax2.set_yscale('log')
for g in grises_med:
    x, y = serie(k_gmed, g)
    ax2.plot(x, y, '-', color='#d6d6d6', linewidth=0.9, zorder=1)
x, y = serie(k_med, p_rojo)
ax2.plot(x, y, 'o-', color='red', markersize=5.3, linewidth=1.0, zorder=2)
x, y = serie(k_med, p_azul)
ax2.plot(x, y, 's-', color='blue', markersize=5.4, linewidth=1.0, zorder=3)
ax2.plot(f_aj_rojo, p_aj_rojo, '-', color='red', linewidth=1.0, zorder=4)
ax2.plot(f_aj_azul, p_aj_azul, '-', color='blue', linewidth=1.0, zorder=4)

ax2.set_xlim(1/1024., 0.5)
ax2.set_ylim(1e-5, 30.5)
ax2.set_xticks([0.001, 0.01, 0.1])
ax2.set_xticklabels(['0.001', '0.01', '0.1'])
ax2.set_yticks([1e-5, 1e-4, 1e-3, 1e-2, 1e-1, 1, 10])
ax2.set_yticklabels(['1e-05', '0.0001', '0.001', '0.01', '0.1', '1', '10'])
ax2.xaxis.set_minor_locator(LogLocator(base=10, subs=np.arange(2, 10)))
ax2.yaxis.set_minor_locator(LogLocator(base=10, subs=np.arange(2, 10)))
ax2.xaxis.set_minor_formatter(NullFormatter())
ax2.yaxis.set_minor_formatter(NullFormatter())
ax2.tick_params(which='major', direction='in', length=8, width=1, labelsize=12)
ax2.tick_params(axis='x', which='major', pad=17)
ax2.tick_params(axis='y', which='major', pad=14)
ax2.tick_params(which='minor', direction='in', length=4, width=0.8)
ax2.spines['top'].set_visible(False)
ax2.spines['right'].set_visible(False)
for s in ['left', 'bottom']:
    ax2.spines[s].set_linewidth(1.2)
ax2.set_ylabel('Power', fontsize=16)
ax2.yaxis.set_label_coords(-0.076, 0.49)
ax2.set_xlabel(r'$f$', fontsize=17)
ax2.xaxis.set_label_coords(0.498, -0.11)

#--------------------------------
# Coherencias
def panel(rect, grises, rojo, negro, azul, ajustes):
    ax = fig.add_axes(rect)
    ax.set_xscale('log')
    for g in grises:
        x, y = serie(k_ginf, g)
        ax.plot(x, y, '-', color='#e2e2e2', linewidth=0.9, zorder=1)
    x, y = serie(k_inf, rojo)
    ax.plot(x, y, 'o-', color='red', markersize=4.8, linewidth=1.1, zorder=2)
    x, y = serie(k_inf, negro)
    ax.plot(x, y, 'v-', color='black', markersize=4.4, linewidth=1.1, zorder=3)
    x, y = serie(k_inf, azul)
    ax.plot(x, y, 's-', color='blue', markersize=5.2, linewidth=1.1, zorder=4)
    for fx, cy, c in ajustes:
        ax.plot(fx, cy, '-', color=c, linewidth=1.1, zorder=5)
    ax.set_xlim(5/1024., 0.5)
    ax.set_ylim(-1, 1.018)
    ax.set_xticks([0.01, 0.1])
    ax.set_xticklabels(['0.01', '0.1'])
    ax.set_yticks([-1, -0.5, 0, 0.5, 1])
    ax.set_yticklabels(['-1', '-0.5', '0', '0.5', '1'])
    ax.xaxis.set_minor_locator(LogLocator(base=10, subs=np.arange(2, 10)))
    ax.xaxis.set_minor_formatter(NullFormatter())
    ax.tick_params(which='major', direction='in', length=8, width=1, labelsize=12)
    ax.tick_params(axis='x', which='major', pad=9)
    ax.tick_params(axis='y', which='major', pad=8)
    ax.tick_params(which='minor', direction='in', length=4, width=0.8)
    ax.spines['top'].set_visible(False)
    ax.spines['right'].set_visible(False)
    for s in ['left', 'bottom']:
        ax.spines[s].set_linewidth(1.2)
    ax.set_xlabel(r'$f$', fontsize=17)
    ax.xaxis.set_label_coords(0.497, -0.105)
    return ax

panel((0.0750, 0.04057, 0.4247, 0.22664), grises_iz, iz_rojo, iz_negro, iz_azul,
      [(f_aj_iz_rojo, c_aj_iz_rojo, 'red'), (f_aj_iz_negro, c_aj_iz_negro, 'black'),
       (f_aj_iz_azul, c_aj_iz_azul, 'blue')])
panel((0.5705, 0.04057, 0.4237, 0.22664), grises_de, de_rojo, de_negro, de_azul,
      [(f_aj_de, c_aj_de_negro, 'black'), (f_aj_de, c_aj_de_azul, 'blue'),
       (f_aj_de, c_aj_de_rojo, 'red')])

plt.savefig('out.png', dpi=100)
print('Acabado.')
